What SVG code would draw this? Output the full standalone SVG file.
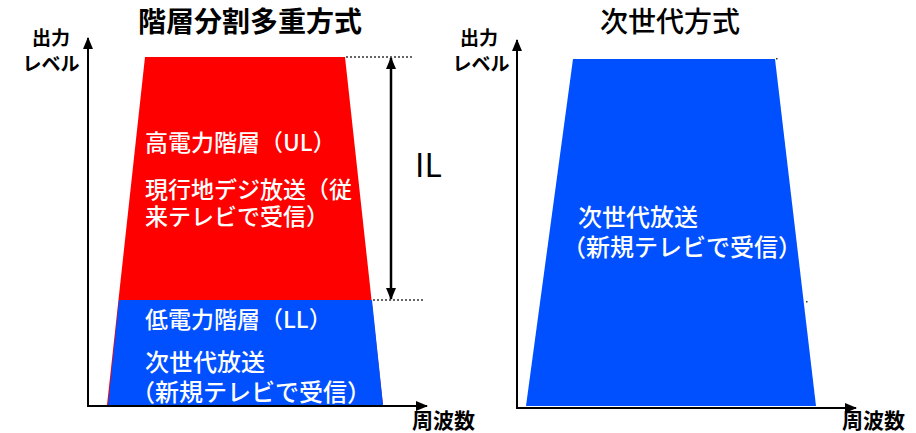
<svg xmlns="http://www.w3.org/2000/svg" width="916" height="433" viewBox="0 0 916 433">
<style>
text{font-family:"Noto Sans CJK JP","Noto Sans",sans-serif;}
.title{font-size:28px;text-anchor:middle;fill:#000;}
.axl{font-size:19px;font-weight:700;text-anchor:middle;fill:#000;}
.freq{font-size:21px;font-weight:700;fill:#000;}
.wt{fill:#fff;font-size:23px;font-weight:500;}
.wt24{fill:#fff;font-size:24px;font-weight:500;}
.axis{stroke:#000;stroke-width:2;fill:none;}
.dot{stroke:#333;stroke-width:1.5;stroke-dasharray:2 2;fill:none;}
</style>
<defs>
<marker id="ah" viewBox="0 0 12 10" refX="11" refY="5" markerWidth="12" markerHeight="10" markerUnits="userSpaceOnUse" orient="auto-start-reverse">
<path d="M0,0 L12,5 L0,10 z" fill="#000"/>
</marker>
</defs>
<rect width="916" height="433" fill="#fff"/>

<g id="left-title"><text class="title" x="250" y="32" font-weight="700">階層分割多重方式</text></g>
<g id="right-title"><text class="title" x="670" y="32" font-weight="500">次世代方式</text></g>

<g id="left-ylabel">
<text class="axl" x="51" y="45">出力</text>
<text class="axl" x="51" y="71" font-size="20">レベル</text>
</g>
<g id="right-ylabel">
<text class="axl" x="479" y="45">出力</text>
<text class="axl" x="481" y="71" font-size="20">レベル</text>
</g>

<g id="left-spectrum">
<polygon points="145,57 345,57 383,405 107,405" fill="#ff0000"/>
<polygon points="119,300 372,300 383,405 108,405" fill="#0050ff"/>
</g>
<g id="left-ul-label">
<text class="wt" x="145" y="151">高電力階層（UL）</text>
<text class="wt" x="145" y="198">現行地デジ放送（従</text>
<text class="wt" x="145" y="225">来テレビで受信）</text>
</g>
<g id="left-ll-label">
<text class="wt" x="145" y="328">低電力階層（LL）</text>
<text class="wt24" x="145" y="371">次世代放送</text>
<text class="wt24" x="131" y="401">（新規テレビで受信）</text>
</g>

<g id="right-spectrum">
<polygon points="573,59 775,59 816,406 526,406" fill="#0050ff"/>
<rect x="776" y="58" width="1.5" height="1.5" fill="#333"/>
<rect x="806" y="301" width="1.5" height="1.5" fill="#333"/>
<text class="wt24" x="578" y="226">次世代放送</text>
<text class="wt24" x="562" y="256">（新規テレビで受信）</text>
</g>

<g id="il-label"><text x="415" y="177" font-family="DejaVu Sans" font-size="32" fill="#000">IL</text></g>

<g id="left-freq"><text class="freq" x="412" y="428">周波数</text></g>
<g id="right-freq"><text class="freq" x="842" y="428">周波数</text></g>

<g id="connectors">
<line class="axis" x1="88" y1="406" x2="88" y2="38" marker-end="url(#ah)"/>
<line class="axis" x1="87" y1="406" x2="427" y2="406" marker-end="url(#ah)"/>
<line class="axis" x1="517" y1="408" x2="517" y2="40" marker-end="url(#ah)"/>
<line class="axis" x1="516" y1="408" x2="856" y2="408" marker-end="url(#ah)"/>
<line class="dot" x1="346" y1="57" x2="412" y2="57"/>
<line class="dot" x1="373" y1="300" x2="424" y2="300"/>
<line x1="391" y1="58" x2="391" y2="299" stroke="#000" stroke-width="2.5" marker-start="url(#ah)" marker-end="url(#ah)"/>
</g>
</svg>
